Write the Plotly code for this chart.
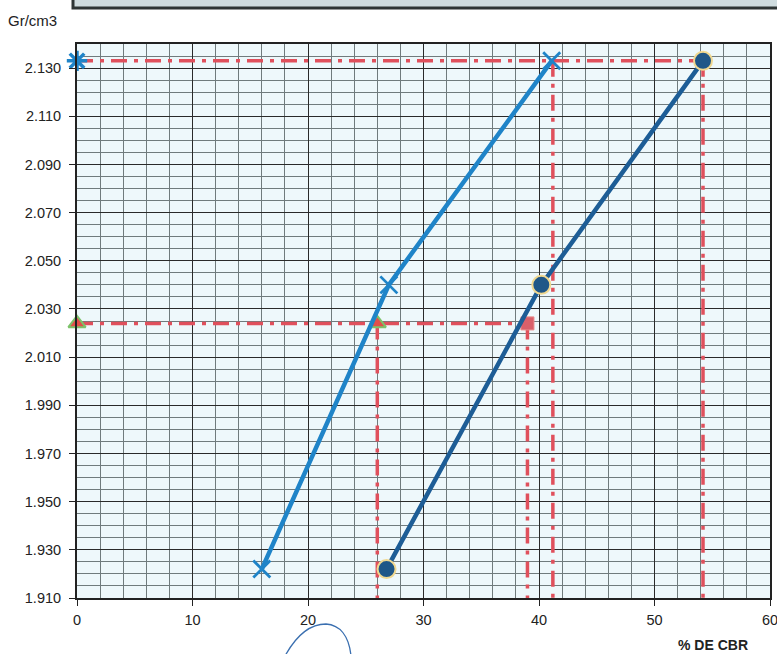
import plotly.graph_objects as go

# Density (Gr/cm3) versus CBR (%) curves
dens_levels = [1.922, 2.040, 2.133]
cbr_curve_a = [16.0, 27.0, 41.1]
cbr_curve_b = [26.8, 40.2, 54.2]

# Reference construction lines
max_density = 2.133
design_density = 2.024
cbr_at_max = [41.2, 54.2]
cbr_at_design = [26.0, 39.0]

# Axis ticks
x_ticks = [0, 10, 20, 30, 40, 50, 60]
y_ticks = [1.910, 1.930, 1.950, 1.970, 1.990, 2.010, 2.030, 2.050, 2.070, 2.090, 2.110, 2.130]

Y_MIN, Y_MAX = 1.910, 2.140
RED = "#e0505c"
LINE_A = "#1f84c8"
LINE_B = "#1d5d96"
FONT = "Liberation Sans, Arial, sans-serif"

fig = go.Figure()

# Dash-dot construction lines
dash_line = dict(color=RED, width=3.5, dash="16px,7px,4px,7px")
fig.add_trace(go.Scatter(
    x=[0, cbr_at_max[1]], y=[max_density, max_density], mode="lines",
    line=dash_line, hoverinfo="skip", showlegend=False))
for xv in cbr_at_max:
    fig.add_trace(go.Scatter(
        x=[xv, xv], y=[max_density, Y_MIN], mode="lines",
        line=dash_line, hoverinfo="skip", showlegend=False))
fig.add_trace(go.Scatter(
    x=[0, cbr_at_design[1]], y=[design_density, design_density], mode="lines",
    line=dash_line, hoverinfo="skip", showlegend=False))
for xv in cbr_at_design:
    fig.add_trace(go.Scatter(
        x=[xv, xv], y=[design_density, Y_MIN], mode="lines",
        line=dash_line, hoverinfo="skip", showlegend=False))

# Markers on the construction lines
fig.add_trace(go.Scatter(
    x=[0, cbr_at_design[0]], y=[design_density, design_density], mode="markers",
    marker=dict(symbol="triangle-up", size=15, color="#e2504a",
                line=dict(color="#7cc36a", width=2)),
    showlegend=False, cliponaxis=False))
fig.add_trace(go.Scatter(
    x=[cbr_at_design[1]], y=[design_density], mode="markers",
    marker=dict(symbol="square", size=13, color="#d9606a", line=dict(color="#e88a8a", width=1)),
    showlegend=False, cliponaxis=False))
fig.add_trace(go.Scatter(
    x=[0], y=[max_density], mode="markers",
    marker=dict(symbol="asterisk-open", size=17, color=LINE_A, line=dict(color=LINE_A, width=3.5)),
    showlegend=False, cliponaxis=False))

# Curve A (X markers)
fig.add_trace(go.Scatter(
    x=cbr_curve_a, y=dens_levels, mode="lines+markers",
    line=dict(color=LINE_A, width=4.5),
    marker=dict(symbol="x-thin-open", size=17, color=LINE_A, line=dict(color=LINE_A, width=2.8)),
    showlegend=False, cliponaxis=False))

# Curve B (circle markers)
fig.add_trace(go.Scatter(
    x=cbr_curve_b, y=dens_levels, mode="lines+markers",
    line=dict(color=LINE_B, width=4.5),
    marker=dict(symbol="circle", size=18, color="#1f5788", line=dict(color="#f0d890", width=2)),
    showlegend=False, cliponaxis=False))

tick_font = dict(family=FONT, size=14.5, color="#222")

fig.update_xaxes(
    range=[0, 60], tickvals=x_ticks, ticktext=[str(v) for v in x_ticks],
    showgrid=True, gridcolor="#2a2a2a", gridwidth=1.3,
    minor=dict(dtick=2, tick0=0, showgrid=True, gridcolor="#707b7d", gridwidth=1),
    ticks="outside", ticklen=6, tickcolor="#222", tickwidth=1.3,
    showline=True, linecolor="#222", linewidth=2, mirror=True,
    zeroline=False, tickfont=tick_font, fixedrange=True, automargin=False,
    ticklabelstandoff=2, ticklabeloverflow="allow")
fig.update_yaxes(
    range=[Y_MIN, Y_MAX], tickvals=y_ticks, ticktext=[f"{v:.3f}" for v in y_ticks],
    showgrid=True, gridcolor="#2a2a2a", gridwidth=1.3,
    minor=dict(dtick=0.005, tick0=Y_MIN, showgrid=True, gridcolor="#707b7d", gridwidth=1),
    ticks="outside", ticklen=6, tickcolor="#222", tickwidth=1.3,
    showline=True, linecolor="#222", linewidth=2, mirror=True,
    zeroline=False, tickfont=tick_font, fixedrange=True, automargin=False,
    ticklabelstandoff=5, ticklabeloverflow="allow")

L, R, T, B = 77, 7, 44, 56
W, H = 777, 654
PW, PH = W - L - R, H - T - B


def px(xp):
    return (xp - L) / PW


def py(yp):
    return (H - B - yp) / PH


shapes = [
    # header box at the top edge of the sheet
    dict(type="rect", xref="paper", yref="paper",
         x0=px(73), x1=px(782), y0=py(8), y1=py(-6),
         fillcolor="#cfdcdf", line=dict(color="#2e3535", width=3), layer="above"),
    # pen stroke below the axis
    dict(type="path", xref="paper", yref="paper",
         path=(f"M {px(285)},{py(656)} C {px(296)},{py(636)} {px(310)},{py(624)} {px(326)},{py(624)} "
               f"C {px(340)},{py(625)} {px(349)},{py(636)} {px(351)},{py(656)}"),
         line=dict(color="#3a6fb0", width=1.3)),
]

fig.update_layout(
    width=W, height=H,
    margin=dict(l=L, r=R, t=T, b=B, pad=0, autoexpand=False),
    paper_bgcolor="white", plot_bgcolor="#eef8fb",
    shapes=shapes,
    annotations=[
        dict(text="Gr/cm3", xref="paper", yref="paper", x=px(6), y=py(20),
             xanchor="left", yanchor="middle", showarrow=False,
             font=dict(family=FONT, size=15, color="#222")),
        dict(text="<b>% DE CBR</b>", xref="paper", yref="paper", x=px(750), y=py(645),
             xanchor="right", yanchor="middle", showarrow=False,
             font=dict(family=FONT, size=14, color="#222")),
    ],
)

fig.write_html("out.html")
